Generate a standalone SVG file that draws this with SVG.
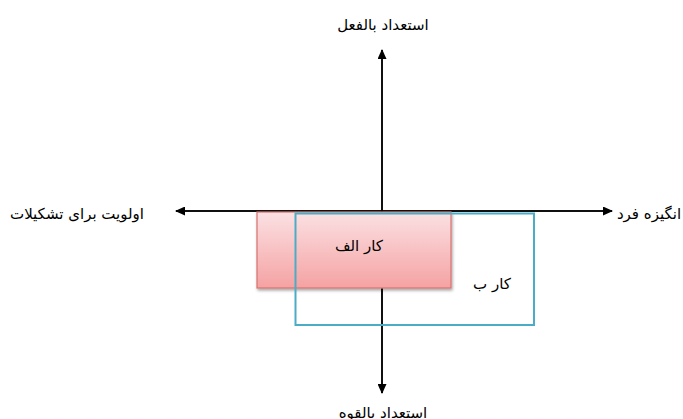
<svg xmlns="http://www.w3.org/2000/svg" width="683" height="419" viewBox="0 0 683 419">
<style>
.ax{stroke:#000;stroke-width:1.5;fill:none}
.lbl{font-family:"DejaVu Sans","Noto Sans",sans-serif;font-size:15px;fill:#000;text-anchor:middle}
</style>
<defs>
<marker id="ah" viewBox="0 0 10 10" refX="9" refY="5" markerWidth="10" markerHeight="9" markerUnits="userSpaceOnUse" orient="auto" preserveAspectRatio="none"><path d="M0,0 L10,5 L0,10 z" fill="#000"/></marker>
<linearGradient id="rg" x1="0" y1="0" x2="0" y2="1"><stop offset="0" stop-color="#fbe1e3"/><stop offset="1" stop-color="#f5a2a3"/></linearGradient>
<filter id="sh" x="-10%" y="-10%" width="130%" height="140%"><feDropShadow dx="1" dy="2" stdDeviation="1.5" flood-color="#000" flood-opacity="0.35"/></filter>
</defs>
<g id="connectors">
<line class="ax" x1="382" y1="393" x2="382" y2="50" marker-end="url(#ah)"/>
<line class="ax" x1="382" y1="50" x2="382" y2="393" marker-end="url(#ah)"/>
<line class="ax" x1="176" y1="211" x2="612" y2="211" marker-end="url(#ah)"/>
<line class="ax" x1="612" y1="211" x2="176" y2="211" marker-end="url(#ah)"/>
</g>
<g id="kar-alef">
<rect x="257" y="212" width="194" height="76" fill="url(#rg)" stroke="#d8726f" stroke-width="1.2" filter="url(#sh)"/>
</g>
<g id="kar-be">
<rect x="295.5" y="213.5" width="238.5" height="111.5" fill="none" stroke="#4bacc6" stroke-width="2"/>
<text class="lbl" x="492" y="289">کار ب</text>
</g>
<text class="lbl" x="359" y="251">کار الف</text>
<g id="top"><text class="lbl" x="383" y="30">استعداد بالفعل</text></g>
<g id="bottom"><text class="lbl" x="383" y="418">استعداد بالقوه</text></g>
<g id="left"><text class="lbl" x="77" y="219">اولویت برای تشکیلات</text></g>
<g id="right"><text class="lbl" x="649" y="219">انگیزه فرد</text></g>
</svg>
